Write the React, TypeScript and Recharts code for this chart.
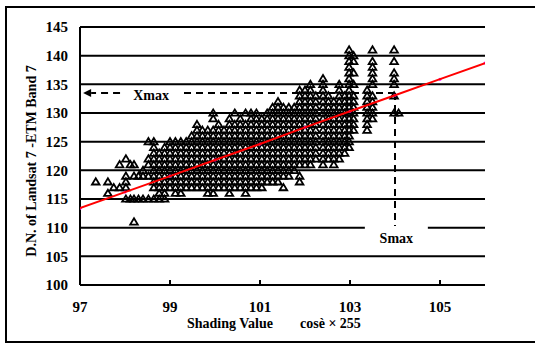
import {
  CartesianGrid,
  ComposedChart,
  Line,
  ReferenceArea,
  ReferenceLine,
  Scatter,
  XAxis,
  YAxis,
} from "recharts"

// scatter columns: shading value -> D.N. values
const colX = [
  97.35, 97.62, 97.75, 97.88, 98.02, 98.12, 98.2, 98.3, 98.4, 98.52, 98.64, 98.76, 98.88,
  99.0, 99.12, 99.24, 99.36, 99.48, 99.6, 99.72, 99.84, 99.96, 100.08, 100.2, 100.32,
  100.44, 100.56, 100.68, 100.8, 100.92, 101.04, 101.16, 101.28, 101.4, 101.52, 101.64,
  101.76, 101.88, 102.0, 102.12, 102.24, 102.4, 102.52, 102.64, 102.76, 102.88, 102.98,
  103.08, 103.38, 103.5, 103.98, 104.08,
]

const colY = [
  [118],
  [118, 116],
  [117],
  [117, 121],
  [115, 117, 118, 119, 122],
  [115, 121],
  [111, 115, 119, 121],
  [115, 119],
  [115, 119, 120],
  [115, 119, 121, 122, 125],
  [115, 117, 118, 119, 120, 121, 122, 123, 124, 125],
  [115, 116, 117, 118, 119, 120, 121, 122, 123],
  [115, 116, 117, 118, 119, 120, 121, 122, 123, 124],
  [117, 118, 119, 120, 121, 122, 123, 124, 125],
  [116, 117, 118, 119, 120, 121, 122, 123, 124, 125],
  [116, 117, 118, 119, 120, 121, 122, 123, 124, 125],
  [117, 118, 119, 120, 121, 122, 123, 124, 125],
  [117, 118, 119, 120, 121, 122, 123, 124, 125, 126],
  [117, 118, 119, 120, 121, 122, 123, 124, 125, 126, 127, 128],
  [117, 118, 119, 120, 121, 122, 123, 124, 125, 126, 127],
  [116, 117, 118, 119, 120, 121, 122, 123, 124, 125, 126, 127],
  [116, 117, 118, 119, 120, 121, 122, 123, 124, 125, 126, 127, 129, 130],
  [117, 118, 119, 120, 121, 122, 123, 124, 125, 126, 127, 128],
  [117, 118, 119, 120, 121, 122, 123, 124, 125, 126, 127],
  [116, 117, 118, 119, 120, 121, 122, 123, 124, 125, 126, 127, 128, 129],
  [117, 118, 119, 120, 121, 122, 123, 124, 125, 126, 127, 128, 130],
  [117, 118, 119, 120, 121, 122, 123, 124, 125, 126, 127, 128, 129],
  [116, 117, 118, 119, 120, 121, 122, 123, 124, 125, 126, 127, 128, 130],
  [117, 118, 119, 120, 121, 122, 123, 124, 125, 126, 127, 128, 129, 130],
  [117, 118, 119, 120, 121, 122, 123, 124, 125, 126, 127, 128, 129, 130],
  [117, 118, 119, 120, 121, 122, 123, 124, 125, 126, 127, 128, 129],
  [118, 119, 120, 121, 122, 123, 124, 125, 126, 127, 128, 129, 130],
  [118, 119, 120, 121, 122, 123, 124, 125, 126, 127, 128, 129, 130, 131],
  [118, 119, 120, 121, 122, 123, 124, 125, 126, 127, 128, 129, 130, 131, 132],
  [117, 119, 120, 121, 122, 123, 124, 125, 126, 127, 128, 129, 130, 131],
  [119, 120, 121, 122, 123, 124, 125, 126, 127, 128, 129, 130, 131],
  [120, 121, 122, 123, 124, 125, 126, 127, 128, 129, 130, 131],
  [118, 119, 121, 122, 123, 124, 125, 126, 127, 128, 129, 130, 131, 132, 133, 134],
  [121, 122, 123, 124, 125, 126, 127, 128, 129, 130, 131, 132, 133, 134],
  [121, 122, 123, 124, 125, 126, 127, 128, 129, 130, 131, 132, 133, 134, 135],
  [122, 123, 124, 125, 126, 127, 128, 129, 130, 131, 132, 133],
  [121, 122, 123, 124, 125, 126, 127, 128, 129, 130, 131, 132, 133, 134, 135, 136],
  [122, 123, 124, 125, 126, 127, 128, 129, 130, 131, 132, 133],
  [121, 122, 123, 124, 125, 126, 127, 128, 129, 130, 131, 132],
  [122, 123, 124, 125, 126, 127, 128, 129, 130, 131, 132, 133, 134, 135],
  [123, 124, 125, 126, 127, 128, 129, 130, 131, 132, 133],
  [124, 125, 126, 127, 128, 129, 130, 131, 132, 133, 134, 135, 136, 137, 138, 139, 140, 141],
  [127, 128, 129, 130, 131, 132, 133, 135, 137, 139, 140],
  [127, 128, 129, 130, 131, 132, 133, 134],
  [129, 130, 131, 132, 133, 135, 136, 137, 138, 139, 141],
  [130, 133, 135, 136, 137, 139, 141],
  [130],
]

// regression line
const fitX = [97, 98, 99, 100, 101, 102, 103, 104, 105, 106]
const fitY = [113.4, 116.2, 119.0, 121.8, 124.6, 127.5, 130.3, 133.1, 135.9, 138.7]

const xTicks = [97, 99, 101, 103, 105]
const yTicks = [100, 105, 110, 115, 120, 125, 130, 135, 140, 145]

const xMaxY = 133.5
const sMaxX = 104

const points = colX.flatMap((x, i) => colY[i].map((y) => ({ x, y })))
const fit = fitX.map((x, i) => ({ x, y: fitY[i] }))

const font = "'Liberation Serif', 'Times New Roman', serif"

const Tri = (props: any) => {
  const { cx, cy } = props
  if (cx == null || cy == null) return null
  return (
    <polygon
      points={`${cx},${cy - 3.6} ${cx + 3.8},${cy + 2.7} ${cx - 3.8},${cy + 2.7}`}
      fill="none"
      stroke="#000"
      strokeWidth={1.8}
      strokeLinejoin="miter"
    />
  )
}

// dashed line, arrow head on the second point
const dashed = (props: any) => {
  const { x1, y1, x2, y2 } = props
  return (
    <line x1={x1} y1={y1} x2={x2} y2={y2} stroke="#000" strokeWidth={2} strokeDasharray="7 5" />
  )
}

const arrow = (props: any) => {
  const { x1, y1, x2, y2 } = props
  const dx = x2 - x1
  const dy = y2 - y1
  const len = Math.hypot(dx, dy) || 1
  const ux = dx / len
  const uy = dy / len
  const h = 8
  const w = 4
  const bx = x2 - ux * h
  const by = y2 - uy * h
  return (
    <g>
      <line x1={x1} y1={y1} x2={bx} y2={by} stroke="#000" strokeWidth={2} strokeDasharray="7 5" />
      <polygon
        points={`${x2},${y2} ${bx - uy * w},${by + ux * w} ${bx + uy * w},${by - ux * w}`}
        fill="#000"
      />
    </g>
  )
}

const XTick = (props: any) => {
  const { x, y, payload } = props
  const axisY = y - 16
  return (
    <g>
      {payload.value !== 97 && (
        <line x1={x} x2={x} y1={axisY} y2={axisY - 5} stroke="#000" strokeWidth={2} />
      )}
      <text x={x} y={y} dy="0.71em" textAnchor="middle" fontFamily={font} fontWeight="bold" fontSize={15} fill="#000">
        {payload.value}
      </text>
    </g>
  )
}

const XLabel = (props: any) => {
  const vb = props.viewBox || { x: 80, y: 285 }
  return (
    <g fontFamily={font} fontWeight="bold" fontSize={14} fill="#000">
      <text x={vb.x + 107} y={vb.y + 43}>Shading Value</text>
      <text x={vb.x + 220} y={vb.y + 43}>cosè × 255</text>
    </g>
  )
}

const YLabel = (props: any) => {
  const vb = props.viewBox || { x: 0, y: 27, height: 258 }
  const cx = vb.x + 31
  const cy = vb.y + vb.height / 2 + 5
  return (
    <text
      x={cx}
      y={cy}
      transform={`rotate(-90 ${cx} ${cy})`}
      textAnchor="middle"
      dominantBaseline="central"
      fontFamily={font}
      fontWeight="bold"
      fontSize={14}
      fill="#000"
    >
      D.N. of Landsat 7 -ETM Band 7
    </text>
  )
}

const labelStyle = { fill: "#000", fontSize: 14, fontWeight: "bold", fontFamily: font }

export default function App() {
  return (
    <div style={{ position: "absolute", left: 0, top: 0, width: 535, height: 345, background: "#fff" }}>
      <div
        style={{
          position: "absolute",
          left: 5,
          top: 6,
          width: 528,
          height: 333,
          borderLeft: "2px solid #000",
          borderTop: "2px solid #000",
          borderBottom: "2px solid #000",
        }}
      />
      <div style={{ position: "absolute", left: 0, top: 0 }}>
        <ComposedChart width={535} height={345} margin={{ top: 27, right: 50, bottom: 0, left: 0 }}>
          <CartesianGrid vertical={false} stroke="#000" strokeWidth={2} />
          <XAxis
            dataKey="x"
            type="number"
            domain={[97, 106]}
            ticks={xTicks}
            allowDataOverflow
            height={60}
            axisLine={{ stroke: "#000", strokeWidth: 2 }}
            tickLine={false}
            tickSize={6}
            tickMargin={10}
            tick={<XTick />}
            label={<XLabel />}
          />
          <YAxis
            dataKey="y"
            type="number"
            domain={[100, 145]}
            ticks={yTicks}
            allowDataOverflow
            width={80}
            axisLine={{ stroke: "#000", strokeWidth: 2 }}
            tickLine={false}
            tickMargin={6}
            tick={{ fill: "#000", fontSize: 15, fontWeight: "bold", fontFamily: font }}
            label={<YLabel />}
          />
          <Scatter data={points} dataKey="y" shape={<Tri />} isAnimationActive={false} />
          <ReferenceArea x1={97.89} x2={99.27} y1={131.6} y2={134.7} fill="#fff" fillOpacity={1} stroke="none" label={{ value: "Xmax", position: "center", ...labelStyle }} />
          <ReferenceArea x1={103.33} x2={104.73} y1={106} y2={110.3} fill="#fff" fillOpacity={1} stroke="none" label={{ value: "Smax", position: "center", ...labelStyle }} />
          <ReferenceLine segment={[{ x: sMaxX, y: xMaxY }, { x: 99.27, y: xMaxY }]} shape={dashed} />
          <ReferenceLine segment={[{ x: 97.89, y: xMaxY }, { x: 97.07, y: xMaxY }]} shape={arrow} />
          <ReferenceLine segment={[{ x: sMaxX, y: xMaxY }, { x: sMaxX, y: 110.3 }]} shape={dashed} />
          <ReferenceLine segment={[{ x: sMaxX, y: 106 }, { x: sMaxX, y: 99.8 }]} shape={arrow} />
          <Line
            data={fit}
            dataKey="y"
            type="linear"
            stroke="#ff0000"
            strokeWidth={2}
            dot={{ r: 1.5, fill: "#ff00ff", stroke: "none" }}
            isAnimationActive={false}
            zIndex={700}
          />
        </ComposedChart>
      </div>
    </div>
  )
}
